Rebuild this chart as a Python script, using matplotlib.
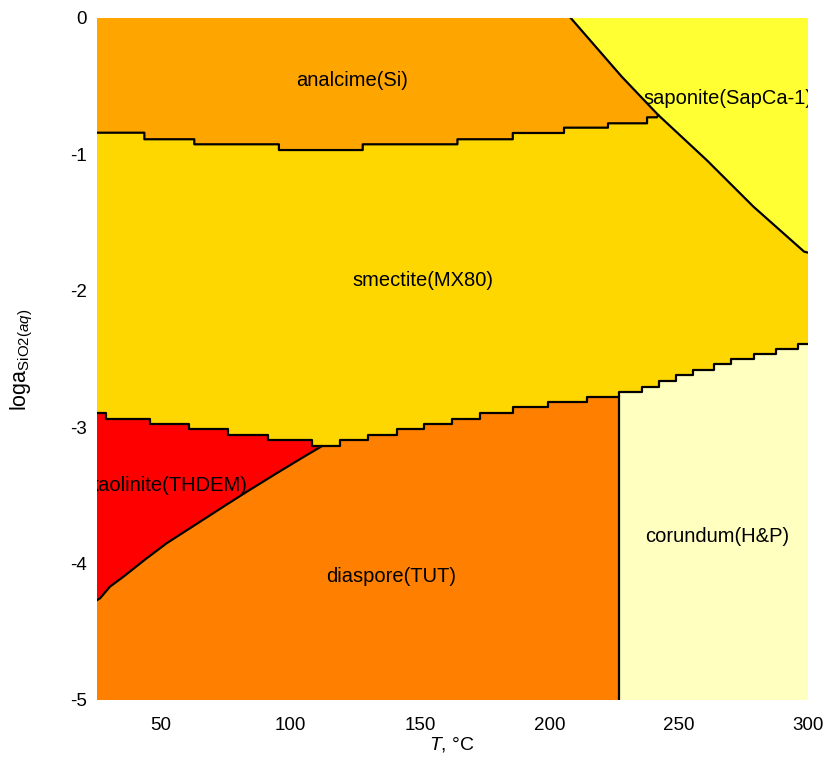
import matplotlib
matplotlib.use("Agg")
import matplotlib.pyplot as plt
import numpy as np

plt.rcParams['font.family'] = ['Liberation Sans', 'DejaVu Sans']
plt.rcParams['mathtext.fontset'] = 'custom'
plt.rcParams['mathtext.rm'] = 'Liberation Sans'
plt.rcParams['mathtext.it'] = 'Liberation Sans:italic'
plt.rcParams['axes.unicode_minus'] = False

# ---- data ----
# analcime / smectite boundary (stepped): edges in T and logA per step
ana_T = [25, 43.5, 62.8, 95.5, 127.9, 164.5, 185.9, 205.7, 222.7, 237.8, 241.6]
ana_y = [-0.841, -0.889, -0.926, -0.968, -0.926, -0.889, -0.843, -0.804, -0.772, -0.728]

# saponite boundary (diagonal)
sap_T = [208.3, 228.0, 242.1, 260.8, 278.9, 298.5, 300]
sap_y = [0.0, -0.430, -0.711, -1.041, -1.383, -1.713, -1.72]

# kaolinite / smectite boundary (stepped)
kao_T = [25, 28.8, 45.5, 60.8, 75.9, 91.1, 108.3]
kao_y = [-2.898, -2.938, -2.977, -3.015, -3.055, -3.094]

# smectite / diaspore+corundum boundary (stepped)
low_T = [108.3, 119.1, 130.1, 141.0, 151.7, 162.3, 173.2, 185.9, 199.4, 214.5,
         227.1, 236.0, 242.5, 249.0, 255.4, 263.8, 270.2, 279.1, 287.6, 296.0, 300]
low_y = [-3.138, -3.094, -3.055, -3.015, -2.977, -2.938, -2.898, -2.854, -2.813, -2.779,
         -2.742, -2.703, -2.664, -2.617, -2.581, -2.539, -2.502, -2.463, -2.424, -2.390]

# kaolinite / diaspore boundary (diagonal)
kd_T = [112.0, 104.0, 94.6, 83.1, 74.0, 61.1, 52.1, 44.4, 35.4, 30.2, 26.4, 25]
kd_y = [-3.14, -3.23, -3.338, -3.473, -3.583, -3.741, -3.851, -3.961, -4.096, -4.169, -4.254, -4.27]

# diaspore / corundum boundary (vertical)
cor_T = 227.1

phases = ['analcime(Si)', 'smectite(MX80)', 'saponite(SapCa-1)',
          'kaolinite(THDEM)', 'diaspore(TUT)', 'corundum(H&P)']
colors = ['#FFA500', '#FFD700', '#FFFF33', '#FF0000', '#FF8000', '#FFFFC0']
label_T = [123.9, 151.3, 268.9, 52.5, 138.8, 265.0]
label_y = [-0.455, -1.921, -0.589, -3.424, -4.098, -3.803]

xticks = [50, 100, 150, 200, 250, 300]
yticks = [0, -1, -2, -3, -4, -5]
xlim = (25, 300)
ylim = (-5, 0)


def steps(edges, vals):
    xs, ys = [], []
    for i, v in enumerate(vals):
        xs += [edges[i], edges[i + 1]]
        ys += [v, v]
    return xs, ys


fig = plt.figure(figsize=(8.25, 7.6), dpi=100)
ax = fig.add_axes([96.5 / 825, 60 / 760, 711.5 / 825, 682 / 760])
ax.set_xlim(*xlim)
ax.set_ylim(*ylim)

# background: smectite
ax.fill([xlim[0], xlim[1], xlim[1], xlim[0]], [ylim[0], ylim[0], ylim[1], ylim[1]],
        color=colors[1], lw=0, zorder=0)

# analcime polygon
ax_s, ay_s = steps(ana_T, ana_y)
px = [xlim[0]] + ax_s + sap_T[2::-1]
py = [ylim[1]] + ay_s + sap_y[2::-1]
ax.fill(px, py, color=colors[0], lw=0, zorder=1)

# saponite polygon
px = sap_T + [xlim[1]]
py = sap_y + [ylim[1]]
ax.fill(px, py, color=colors[2], lw=0, zorder=1)

# diaspore polygon (below lower boundary, right of kaolinite)
lx, ly = steps(low_T, low_y)
px = lx + [xlim[1], xlim[0]] + kd_T[::-1] + [kd_T[0]]
py = ly + [ylim[0], ylim[0]] + kd_y[::-1] + [kd_y[0]]
ax.fill(px, py, color=colors[4], lw=0, zorder=1)

# corundum polygon
cx = [cor_T] + [x for x in lx if x >= cor_T] + [xlim[1], cor_T]
cy = [low_y[low_T.index(cor_T)]] + [y for x, y in zip(lx, ly) if x >= cor_T] + [ylim[0], ylim[0]]
ax.fill(cx, cy, color=colors[5], lw=0, zorder=2)

# kaolinite polygon
kx, ky = steps(kao_T, kao_y)
px = kx + [kao_T[-1]] + kd_T
py = ky + [low_y[0]] + kd_y
ax.fill(px, py, color=colors[3], lw=0, zorder=1)

# boundary lines
lw = 1.6
ax.plot(ax_s + [sap_T[2]], ay_s + [sap_y[2]], color='black', lw=lw, zorder=5)
ax.plot(sap_T, sap_y, color='black', lw=lw, zorder=5)
ax.plot(kx + lx, ky + ly, color='black', lw=lw, zorder=5)
ax.plot(kd_T, kd_y, color='black', lw=lw, zorder=5)
ax.plot([cor_T, cor_T], [low_y[low_T.index(cor_T) - 1], ylim[0]], color='black', lw=lw, zorder=5)

for name, tx, ty in zip(phases, label_T, label_y):
    ax.text(tx, ty, name, ha='center', va='center', fontsize=14.5,
            color='black', clip_on=True, zorder=6)

for s in ax.spines.values():
    s.set_visible(False)
ax.set_xticks(xticks)
ax.set_yticks(yticks)
ax.set_yticklabels([str(v) for v in yticks])
ax.tick_params(axis='both', length=0, labelsize=13.5)
ax.tick_params(axis='x', pad=12)
ax.tick_params(axis='y', pad=7)

fig.text(452 / 825, 1 - 745 / 760, r'$T$, °C', ha='center', va='center', fontsize=14)
fig.text(22 / 825, 1 - 360 / 760, r'loga$_{\mathrm{SiO2(}\mathit{aq}\mathrm{)}}$',
         ha='center', va='center', rotation=90, fontsize=15.5)

fig.savefig('out.png', dpi=100)
